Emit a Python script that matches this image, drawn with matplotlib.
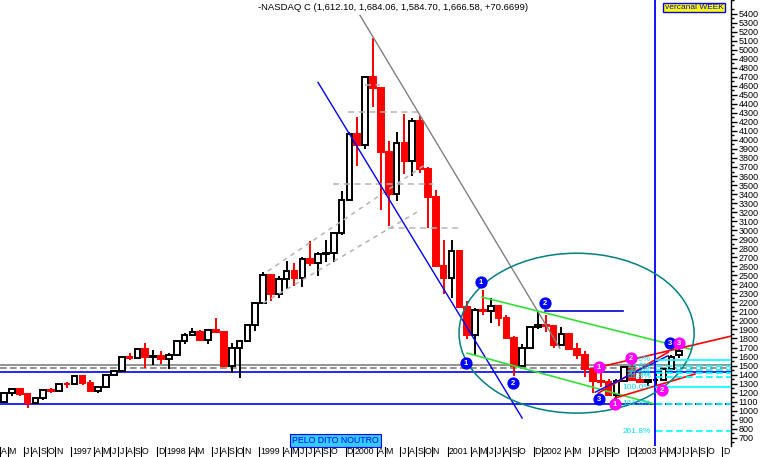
import matplotlib
matplotlib.use("Agg")
import matplotlib.pyplot as plt
from matplotlib.patches import Ellipse
import numpy as np

plt.rcParams['font.family'] = ['Liberation Sans', 'DejaVu Sans']

# ---------------- data: NASDAQ monthly candles, Apr 1996 .. Jun 2003 ----------------
opens = [1101, 1191, 1243, 1185, 1081, 1141, 1227, 1222, 1293,
         1291, 1380, 1309, 1222, 1261, 1400, 1442, 1594, 1587, 1686, 1594, 1601,
         1570, 1619, 1771, 1835, 1868, 1779, 1895, 1872, 1499, 1694, 1771, 1950,
         2193, 2505, 2288, 2461, 2543, 2471, 2686, 2638, 2739, 2746, 2966, 3336,
         4069, 3940, 4697, 4573, 3861, 3401, 3966, 3767, 4206, 3673, 3370, 2598,
         2471, 2773, 2152, 1840, 2116, 2110, 2161, 2027, 1805, 1499, 1690, 1931,
         1950, 1934, 1731, 1845, 1688, 1616, 1463, 1328, 1315, 1172, 1330, 1479,
         1336, 1321, 1338, 1341, 1464, 1612]
highs = [1191, 1250, 1249, 1188, 1153, 1234, 1248, 1293, 1317,
         1390, 1384, 1335, 1262, 1409, 1454, 1597, 1640, 1697, 1745, 1667, 1662,
         1634, 1775, 1866, 1911, 1890, 1897, 2028, 1875, 1750, 1776, 1951, 2200,
         2533, 2520, 2490, 2653, 2635, 2700, 2878, 2760, 2895, 2970, 3430, 4090,
         4250, 4700, 5132, 4580, 3985, 4084, 4289, 4240, 4260, 3700, 3450, 2890,
         2892, 2780, 2213, 2140, 2334, 2250, 2161, 2060, 1830, 1740, 1940, 2098,
         2059, 1940, 1924, 1847, 1748, 1661, 1468, 1426, 1350, 1354, 1490, 1521,
         1468, 1352, 1425, 1477, 1614, 1684]
lows = [1090, 1165, 1161, 1025, 1074, 1122, 1200, 1212, 1255,
        1286, 1288, 1220, 1201, 1258, 1385, 1440, 1565, 1583, 1470, 1510, 1520,
        1465, 1610, 1742, 1830, 1772, 1737, 1862, 1483, 1419, 1357, 1756, 1880,
        2190, 2218, 2250, 2345, 2386, 2367, 2600, 2490, 2650, 2651, 2950, 3330,
        3711, 3900, 4370, 3227, 3042, 3325, 3620, 3600, 3630, 3026, 2596, 2288,
        2251, 2150, 1794, 1619, 2060, 1970, 1942, 1805, 1387, 1480, 1681, 1904,
        1875, 1697, 1727, 1677, 1573, 1375, 1192, 1265, 1172, 1108, 1320, 1330,
        1313, 1271, 1253, 1341, 1457, 1584]
closes = [1191, 1243, 1185, 1081, 1141, 1227, 1222, 1293, 1291,
          1380, 1309, 1222, 1261, 1400, 1442, 1594, 1587, 1686, 1594, 1601, 1570,
          1619, 1771, 1835, 1868, 1779, 1895, 1872, 1499, 1694, 1771, 1950, 2193,
          2505, 2288, 2461, 2543, 2471, 2686, 2638, 2739, 2746, 2966, 3336, 4069,
          3940, 4697, 4573, 3861, 3401, 3966, 3767, 4206, 3673, 3370, 2598, 2471,
          2773, 2152, 1840, 2116, 2110, 2161, 2027, 1805, 1499, 1690, 1931, 1950,
          1934, 1731, 1845, 1688, 1616, 1463, 1328, 1315, 1172, 1330, 1479, 1336,
          1321, 1338, 1341, 1464, 1596, 1666]

# month index 0 = Apr 1996 ; x-axis labels
label_idx = [0, 1, 3, 4, 5, 6, 7, 9,
             12, 13, 14, 15, 16, 17, 18, 20, 21,
             24, 25, 27, 28, 29, 30, 31, 33,
             36, 37, 38, 39, 40, 41, 42, 44, 45,
             48, 49, 51, 52, 53, 54, 55, 57,
             60, 61, 62, 63, 64, 65, 66, 68, 69,
             72, 73, 75, 76, 77, 78, 80, 81,
             84, 85, 86, 87, 88, 89, 90, 92]
label_txt = ['A', 'M', 'J', 'A', 'S', 'O', 'N', '1997',
             'A', 'M', 'J', 'J', 'A', 'S', 'O', 'D', '1998',
             'A', 'M', 'J', 'A', 'S', 'O', 'N', '1999',
             'A', 'M', 'J', 'J', 'A', 'S', 'O', 'D', '2000',
             'A', 'M', 'J', 'A', 'S', 'O', 'N', '2001',
             'A', 'M', 'J', 'J', 'A', 'S', 'O', 'D', '2002',
             'A', 'M', 'J', 'A', 'S', 'O', 'D', '2003',
             'A', 'M', 'J', 'J', 'A', 'S', 'O', 'D']

# y ticks
ytick_vals = list(range(700, 5401, 100))

# study lines (month index, price)
gray_trend = [(45.35, 5379), (70.8, 1693)]
blue_trend = [(40.0, 4637), (66.0, 919)]
gray_dash_h = [(46.0, 47.9, 4604), (43.8, 53.0, 4305), (41.9, 54.6, 3508), (48.9, 57.8, 3022)]
gray_dash_d = [[(33.6, 2546), (53.9, 3741)], [(33.0, 2191), (53.0, 3221)]]
full_gray_solid = 1505
full_gray_dash = 1472
full_blue = 1428
low_blue = 1073
resist_blue = [(68.9, 78.9, 2103)]
green_lines = [[(60.9, 2258), (87.4, 1682)], [(59.0, 1638), (82.9, 1073)]]
red_lines = [[(75.3, 1472), (92.6, 1826)], [(77.8, 1140), (88.0, 1406)], [(75.7, 1195), (84.6, 1649)]]
blue_small = [[(75.3, 1205), (84.6, 1610)]]
vline_idx = 82.9
ellipse_c = (72.93, 1859)
ellipse_wh = (29.94, 1771)

fib_pct = ['0.0%', '23.6%', '38.2%', '50.0%', '61.8%', '100.0%', '161.8%', '261.8%']
fib_val = [1565, 1494, 1449, 1413, 1378, 1262, 1075, 775]
fib_solid = [True, False, False, False, False, True, False, False]

blue_marks = [(60.76, 2424, '1'), (58.85, 1527, '1'), (68.92, 2191, '2'), (64.84, 1306, '2'),
              (75.8, 1129, '3'), (84.84, 1749, '3')]
mag_marks = [(75.8, 1483, '1'), (77.83, 1073, '1'), (79.87, 1583, '2'), (83.82, 1229, '2'),
             (85.99, 1749, '3')]

# ---------------- figure ----------------
W, H = 762, 457
fig = plt.figure(figsize=(W / 100, H / 100), dpi=100)
ax = fig.add_axes([0, 11 / H, 731 / W, 446 / H])
ax.set_xlim(-0.51, 92.6)
ax.set_ylim(609, 5545)

for s in ['left', 'top', 'bottom']:
    ax.spines[s].set_visible(False)
ax.spines['right'].set_linewidth(1.0)

# horizontal full-width lines
ax.axhline(full_gray_solid, color='#808080', lw=1.2, zorder=1)
ax.axhline(full_gray_dash, color='#808080', lw=1.2, ls=(0, (4, 2)), zorder=1)
ax.axhline(full_blue, color='#0000FF', lw=1.2, zorder=1)
ax.plot([-0.51, vline_idx], [low_blue, low_blue], color='#0000FF', lw=1.2, zorder=1)
ax.plot([vline_idx, 92.6], [low_blue, low_blue], color='#0000FF', lw=1.2, ls=(0, (4, 2)), zorder=1)

# candles
x = np.arange(len(opens))
o = np.array(opens, float); c = np.array(closes, float)
hi = np.array(highs, float); lo = np.array(lows, float)
up = c >= o
bot = np.minimum(o, c); hgt = np.abs(c - o)
ax.vlines(x[up], lo[up], hi[up], color='black', lw=1.4, zorder=2)
ax.vlines(x[~up], lo[~up], hi[~up], color='#FF0000', lw=1.4, zorder=2)
ax.bar(x[up], hgt[up], bottom=bot[up], width=0.72, facecolor='white', edgecolor='black', lw=1.4, zorder=3)
ax.bar(x[~up], hgt[~up], bottom=bot[~up], width=0.72, facecolor='#FF0000', edgecolor='#FF0000', lw=1.4, zorder=3)

# dashed gray study lines
for x0, x1, v in gray_dash_h:
    ax.plot([x0, x1], [v, v], color='#B4B4B4', lw=1.1, ls=(0, (4, 3)), zorder=4)
for seg in gray_dash_d:
    ax.plot([p[0] for p in seg], [p[1] for p in seg], color='#B4B4B4', lw=1.1, ls=(0, (3, 3)), zorder=4)

ax.plot([p[0] for p in gray_trend], [p[1] for p in gray_trend], color='#808080', lw=1.0, zorder=4)
ax.plot([p[0] for p in blue_trend], [p[1] for p in blue_trend], color='#0000FF', lw=1.0, zorder=4)
for x0, x1, v in resist_blue:
    ax.plot([x0, x1], [v, v], color='#0000CC', lw=1.2, zorder=4)
for seg in green_lines:
    ax.plot([p[0] for p in seg], [p[1] for p in seg], color='#33E033', lw=1.2, zorder=4)
for seg in red_lines:
    ax.plot([p[0] for p in seg], [p[1] for p in seg], color='#FF0000', lw=1.2, zorder=4)
for seg in blue_small:
    ax.plot([p[0] for p in seg], [p[1] for p in seg], color='#0000FF', lw=1.0, zorder=4)

ax.axvline(vline_idx, color='#0000FF', lw=1.3, zorder=4)

ax.add_patch(Ellipse(ellipse_c, ellipse_wh[0], ellipse_wh[1], fill=False,
                     edgecolor='#008080', lw=1.1, zorder=4))

# fibonacci levels
for pct, v, solid in zip(fib_pct, fib_val, fib_solid):
    ax.plot([vline_idx + 0.1, 92.6], [v, v], color='#00FFFF', lw=1.2,
            ls='-' if solid else (0, (4, 2)), zorder=4)
    ax.text(82.4, v, pct, color='#00E0F0', fontsize=6.0, ha='right', va='center', zorder=6)

# circled numbers
for xi, v, t in blue_marks:
    ax.plot(xi, v, 'o', ms=7.8, color='#0000FF', mec='#0000FF', zorder=7)
    ax.text(xi, v, t, color='white', fontsize=5.5, fontweight='bold', ha='center', va='center', zorder=8)
for xi, v, t in mag_marks:
    ax.plot(xi, v, 'o', ms=7.8, color='#FF00FF', mec='#FF00FF', zorder=7)
    ax.text(xi, v, t, color='white', fontsize=5.5, fontweight='bold', ha='center', va='center', zorder=8)

# y axis on right
ax.yaxis.tick_right()
ax.set_yticks(ytick_vals)
ax.set_yticklabels([str(v) for v in ytick_vals])
ax.set_yticks(list(range(650, 5551, 100)), minor=True)
ax.tick_params(axis='y', which='major', length=4, width=1.0, labelsize=6.5, pad=1.5, direction='out')
ax.tick_params(axis='y', which='minor', length=2.5, width=1.0, direction='out')
ax.set_xticks([])

# x axis label strip
tr = ax.get_xaxis_transform()
for i, t in zip(label_idx, label_txt):
    ax.plot([i - 0.5, i - 0.5], [-0.0025, -0.0247], color='black', lw=0.8, transform=tr, clip_on=False)
    if len(t) > 1:
        ax.text(i - 0.35, -0.0125, t, fontsize=6.3, ha='left', va='center', transform=tr, clip_on=False)
    else:
        ax.text(i, -0.0125, t, fontsize=6.3, ha='center', va='center', transform=tr, clip_on=False)

# title and boxes
fig.text(393 / W, 1 - 7.5 / H, "-NASDAQ C (1,612.10, 1,684.06, 1,584.70, 1,666.58, +70.6699)",
         fontsize=6.8, ha='center', va='center')
fig.text(694 / W, 1 - 7.5 / H, "vercanal WEEK", fontsize=6.0, ha='center', va='center', color='#0000FF',
         bbox=dict(boxstyle='square,pad=0.15', facecolor='#FFFF00', edgecolor='#0000FF', lw=1.0))
fig.text(335.5 / W, 1 - 440.5 / H, "PELO DITO NOUTRO", fontsize=6.3, ha='center', va='center', color='#0000FF',
         bbox=dict(boxstyle='square,pad=0.2', facecolor='#33CCFF', edgecolor='#0000FF', lw=0.8))

fig.savefig('out.png', dpi=100)
